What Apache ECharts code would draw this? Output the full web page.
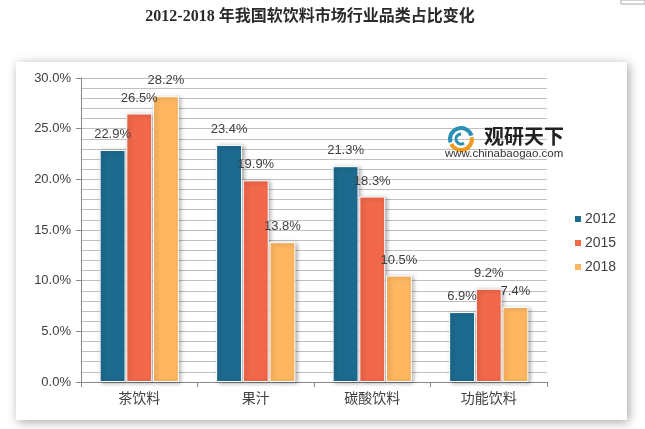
<!DOCTYPE html>
<html><head><meta charset="utf-8">
<script src="https://cdn.jsdelivr.net/npm/echarts@6/dist/echarts.min.js"></script>
<style>html,body{margin:0;padding:0;background:#fff}#c{width:645px;height:429px}</style>
</head><body><div id="c"></div>
<script>
const categories = ['茶饮料', '果汁', '碳酸饮料', '功能饮料'];
const seriesNames = ['2012', '2015', '2018'];
const v2012 = [22.9, 23.4, 21.3, 6.9];
const v2015 = [26.5, 19.9, 18.3, 9.2];
const v2018 = [28.2, 13.8, 10.5, 7.4];
const yTicks = [0, 5, 10, 15, 20, 25, 30];

const colors = ['#1d6a8f', '#f1684a', '#feb660'];
const values = [v2012, v2015, v2018];
const chart = echarts.init(document.getElementById('c'));
const txt = '#404040';
chart.setOption({
  animation: false,
  title: {
    text: '2012-2018 年我国软饮料市场行业品类占比变化',
    left: 305, textAlign: 'center', top: 4,
    textStyle: {fontFamily: "'Liberation Serif','Noto Sans CJK SC',serif", fontSize: 16, fontWeight: 'bold', color: '#2a2a2a'}
  },
  graphic: [
    {type: 'rect', shape: {x: 16, y: 62, width: 611, height: 358}, style: {fill: '#fff', shadowBlur: 10, shadowColor: 'rgba(0,0,0,0.35)', shadowOffsetX: 2, shadowOffsetY: 2}, z: -10},
    {type: 'rect', shape: {x: 621, y: 0, width: 24, height: 4}, style: {fill: '#fff', stroke: '#aaa', lineWidth: 1}, z: -10},
    {type: 'arc', shape: {cx: 461, cy: 139, r: 11, startAngle: Math.PI * 0.9, endAngle: Math.PI * 1.9}, style: {stroke: '#2a8fb5', lineWidth: 4, fill: null}, z: 5},
    {type: 'arc', shape: {cx: 461, cy: 139, r: 11, startAngle: -Math.PI * 0.05, endAngle: Math.PI * 0.85}, style: {stroke: '#f39a1e', lineWidth: 4, fill: null}, z: 5},
    {type: 'arc', shape: {cx: 461, cy: 139, r: 5, startAngle: Math.PI * 0.3, endAngle: Math.PI * 1.5}, style: {stroke: '#2a8fb5', lineWidth: 3, fill: null}, z: 5},
    {type: 'text', left: 484, top: 126, style: {text: '观研天下', fill: '#222', font: "bold 20px 'Noto Sans CJK SC'"}, z: 5},
    {type: 'text', left: 445, top: 148, style: {text: 'www.chinabaogao.com', fill: '#333', font: "11.5px 'Liberation Sans',Arial"}, z: 5}
  ],
  legend: {
    orient: 'vertical', left: 568, top: 207, itemWidth: 8, itemHeight: 8, itemGap: 10,
    icon: 'rect',
    textStyle: {color: txt, fontSize: 14, fontFamily: "'Liberation Sans',Arial", padding: [0, 0, 0, -2]},
    data: seriesNames
  },
  grid: {left: 81, right: 98, top: 78, bottom: 47},
  xAxis: {
    type: 'category', data: categories,
    axisLine: {lineStyle: {color: '#888'}},
    axisTick: {show: true, alignWithLabel: false, length: 5, lineStyle: {color: '#888'}},
    axisLabel: {color: txt, fontSize: 14, margin: 9, fontFamily: "'Noto Sans CJK SC'"}
  },
  yAxis: {
    type: 'value', min: 0, max: 30, interval: 5,
    axisLine: {show: true, lineStyle: {color: '#888'}},
    axisTick: {show: true, length: 5, inside: false, lineStyle: {color: '#888'}},
    axisLabel: {color: txt, fontSize: 13, margin: 10, fontFamily: "'Liberation Sans',Arial",
      formatter: v => yTicks.includes(v) ? v.toFixed(1) + '%' : ''},
    splitLine: {lineStyle: {color: '#bfbfbf'}},
    minorTick: {show: false, splitNumber: 5},
    minorSplitLine: {show: true, lineStyle: {color: '#bfbfbf'}}
  },
  series: seriesNames.map((n, i) => ({
    name: n, type: 'bar', data: values[i],
    barGap: '3%', barCategoryGap: '32%',
    itemStyle: {color: colors[i], borderColor: '#fff', borderWidth: 1, shadowBlur: 4, shadowColor: 'rgba(0,0,0,0.3)', shadowOffsetX: 2, shadowOffsetY: 1},
    label: {show: true, position: 'top', distance: 9, color: txt, fontSize: 13, fontFamily: "'Liberation Sans',Arial", formatter: p => p.value.toFixed(1) + '%'}
  }))
});
</script></body></html>
